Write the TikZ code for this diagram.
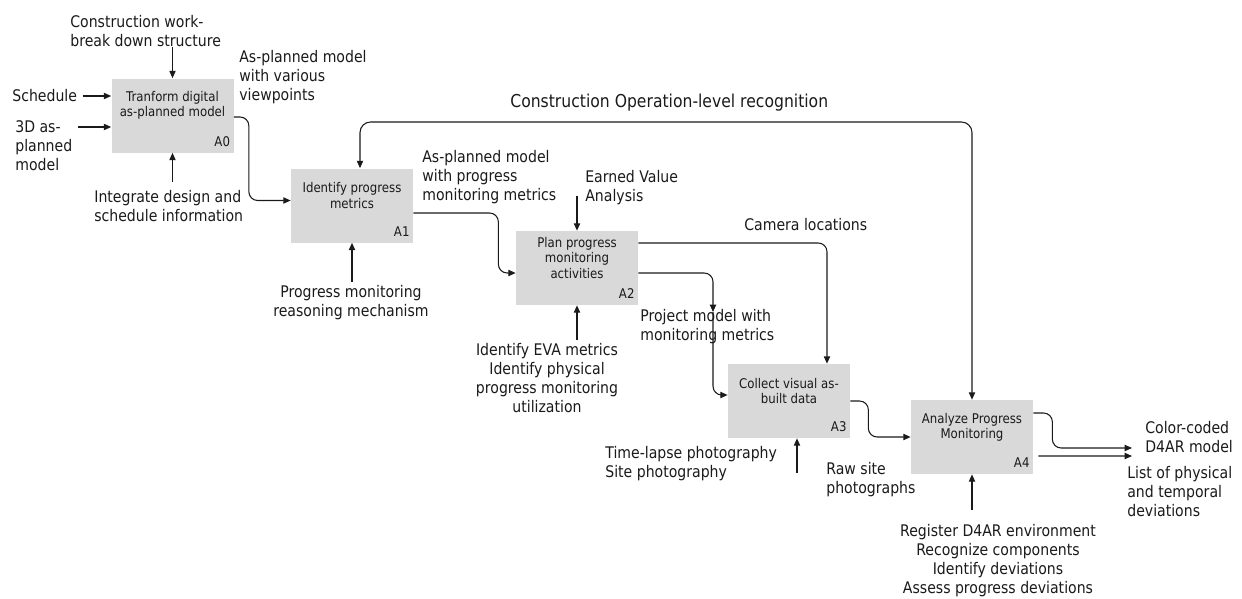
\documentclass[tikz,border=0pt]{standalone}
\usepackage{fontspec}
\setmainfont{DejaVu Sans}[FakeStretch=0.88]
\usetikzlibrary{arrows.meta,positioning}
\definecolor{boxgray}{HTML}{D9D9D9}
\definecolor{inkgray}{HTML}{1A1A1A}

\begin{document}
\begin{tikzpicture}[
  every node/.style={text=inkgray},
  actbox/.style={fill=boxgray, minimum width=2.44cm, minimum height=1.48cm, inner sep=0pt},
  acttext/.style={font=\fontsize{7.6}{8.6}\selectfont, align=center, inner sep=0pt},
  actnum/.style={font=\fontsize{7.6}{8.6}\selectfont, anchor=south east, inner sep=2pt},
  note/.style={font=\fontsize{9.1}{10.8}\selectfont, align=left, inner sep=0pt},
  flow/.style={-{Triangle[length=4.2pt,width=3.6pt]}, line width=0.6pt, draw=inkgray, rounded corners=5pt},
  flowboth/.style={{Triangle[length=4.2pt,width=3.6pt]}-{Triangle[length=4.2pt,width=3.6pt]}, line width=0.6pt, draw=inkgray, rounded corners=6pt}
]
\useasboundingbox (0,0) rectangle (24.84,-11.98);

\node[actbox] (a0) at (3.45,-2.31) {};
\node[actbox] (a1) at (7.04,-4.11) {};
\node[actbox] (a2) at (11.54,-5.36) {};
\node[actbox] (a3) at (15.78,-8.02) {};
\node[actbox] (a4) at (19.44,-8.74) {};

\node[acttext] (a0t) at ([yshift=0.2cm]a0.center) {Tranform digital\\as-planned model};
\node[acttext] (a1t) at ([yshift=0.2cm]a1.center) {Identify progress\\metrics};
\node[acttext] (a2t) at ([yshift=0.2cm]a2.center) {Plan progress\\monitoring\\activities};
\node[acttext] (a3t) at ([yshift=0.2cm]a3.center) {Collect visual as-\\built data};
\node[acttext] (a4t) at ([yshift=0.2cm]a4.center) {Analyze Progress\\Monitoring};
\node[actnum] (a0n) at ([yshift=1.5pt]a0.south east) {A0};
\node[actnum] (a1n) at ([yshift=1.5pt]a1.south east) {A1};
\node[actnum] (a2n) at ([yshift=1.5pt]a2.south east) {A2};
\node[actnum] (a3n) at ([yshift=1.5pt]a3.south east) {A3};
\node[actnum] (a4n) at ([yshift=1.5pt]a4.south east) {A4};

\node[note, anchor=west] (cwbs) at (1.40,-0.62) {Construction work-\\break down structure};
\node[note, anchor=west] (apv) at (4.78,-1.55) {As-planned model\\with various\\viewpoints};
\node[note, anchor=west] (sched) at (0.24,-1.92) {Schedule};
\node[note, anchor=west] (m3d) at (0.30,-2.91) {3D as-\\planned\\model};
\node[note, anchor=west] (integ) at (1.88,-4.12) {Integrate design and\\schedule information};
\node[note, anchor=west, font=\fontsize{10.1}{12}\selectfont] (cor) at (10.20,-2.06) {Construction Operation-level recognition};
\node[note, anchor=west] (apm) at (8.44,-3.54) {As-planned model\\with progress\\monitoring metrics};
\node[note, anchor=west] (eva) at (11.70,-3.75) {Earned Value\\Analysis};
\node[note, align=center] (pmr) at (7.02,-6.05) {Progress monitoring\\reasoning mechanism};
\node[note, align=center] (evm) at (10.94,-7.56) {Identify EVA metrics\\Identify physical\\progress monitoring\\utilization};
\node[note, anchor=west] (cam) at (14.88,-4.50) {Camera locations};
\node[note, anchor=west] (pmm) at (12.80,-6.54) {Project model with\\monitoring metrics};
\node[note, anchor=west] (tlp) at (12.10,-9.28) {Time-lapse photography\\Site photography};
\node[note, anchor=west] (raw) at (16.52,-9.60) {Raw site\\photographs};
\node[note, align=center] (reg) at (19.96,-11.22) {Register D4AR environment\\Recognize components\\Identify deviations\\Assess progress deviations};
\node[note, anchor=west] (ccd) at (22.90,-8.75) {Color-coded\\D4AR model};
\node[note, anchor=west] (lpt) at (22.54,-9.83) {List of physical\\and temporal\\deviations};

\coordinate (m3din) at (1.56,-2.54);
\coordinate (integin) at (3.45,-3.64);
\coordinate (fb) at (13.44,-2.44);
\coordinate (evain) at (11.54,-3.92);
\coordinate (pmrin) at (7.04,-5.64);
\coordinate (evmin) at (11.54,-6.80);
\coordinate (pmtip) at (14.26,-6.24);
\coordinate (tlpin) at (15.94,-9.46);
\coordinate (regin) at (19.44,-10.20);
\coordinate (out1) at (22.64,-8.96);
\coordinate (out2) at (22.64,-9.12);

\draw[flow] ([xshift=3pt]sched.east) -- (sched.east -| a0.west);
\draw[flow] (m3din) -- (m3din -| a0.west);
\draw[flow] (cwbs.south -| a0.north) -- (a0.north);
\draw[flow] (integin) -- (a0.south);
\draw[flow] ([yshift=-0.03cm]a0.east) -- ++(0.3,0) |- ([yshift=0.1cm]a1.west);
\draw[flowboth] ([xshift=0.16cm]a1.north) |- (fb) -| (a4.north);
\draw[flow] ([yshift=-0.15cm]a1.east) -- ++(1.7,0) |- ([yshift=-0.1cm]a2.west);
\draw[flow] (evain) -- (a2.north);
\draw[flow] (pmrin) -- (a1.south);
\draw[flow] (evmin) -- (a2.south);
\draw[flow] ([yshift=0.5cm]a2.east) -| ([xshift=0.76cm]a3.north);
\draw[flow] ([yshift=-0.1cm]a2.east) -| (pmtip);
\draw[flow] (pmtip) |- ([yshift=0.12cm]a3.west);
\draw[flow] (a3.east) -- ++(0.36,0) |- (a4.west);
\draw[flow] (tlpin) -- (tlpin |- a3.south);
\draw[flow] (regin) -- (a4.south);
\draw[flow] ([yshift=0.48cm]a4.east) -- ++(0.38,0) |- (out1);
\draw[flow] ([shift={(0.1,-0.38)}]a4.east) -- (out2);
\end{tikzpicture}
\end{document}
